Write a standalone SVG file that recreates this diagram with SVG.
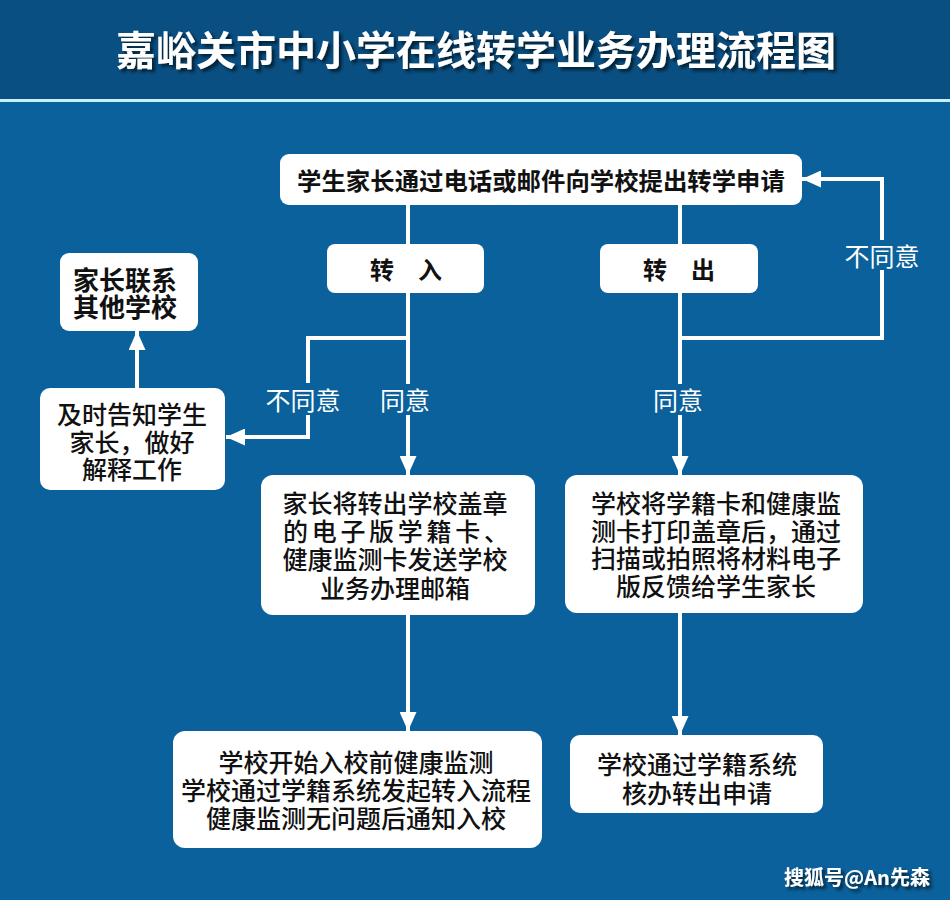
<svg xmlns="http://www.w3.org/2000/svg" width="950" height="900" viewBox="0 0 950 900">
<defs>
<style>
text{font-family:"Noto Sans CJK SC","Noto Sans",sans-serif;text-anchor:middle;dominant-baseline:central}
.box{fill:#ffffff}
.t{fill:#111111;font-size:25px;font-weight:500}
.tb{fill:#111111;font-size:25px;font-weight:bold}
.lbl{fill:#ffffff;font-size:25px}
.ln{stroke:#ffffff;stroke-width:4;fill:none}
.ar{stroke:#ffffff;stroke-width:4;fill:none;marker-end:url(#ah)}
</style>
<marker id="ah" markerUnits="userSpaceOnUse" markerWidth="19" markerHeight="17" viewBox="0 0 19 17" refX="19" refY="8.5" orient="auto">
<path d="M0,0 L19,8.5 L0,17 Z" fill="#ffffff"/>
</marker>
<filter id="sh" x="-5%" y="-20%" width="110%" height="150%">
<feDropShadow dx="3" dy="3" stdDeviation="1.5" flood-color="#001a33" flood-opacity="0.9"/>
</filter>
</defs>
<rect x="0" y="0" width="950" height="900" fill="#0b619b"/>
<rect x="0" y="0" width="950" height="99" fill="#0a4f81"/>
<rect x="0" y="99" width="950" height="3" fill="#c9efff"/>
<text x="476" y="48" fill="#ffffff" font-size="40" font-weight="bold" filter="url(#sh)">嘉峪关市中小学在线转学业务办理流程图</text>

<g id="connectors">
<path class="ln" d="M408,205 V244"/>
<path class="ln" d="M680,205 V244"/>
<path class="ln" d="M408,292 V384"/>
<path class="ar" d="M408,415 V475"/>
<path class="ln" d="M408,338 H308 V383"/>
<path class="ar" d="M308,415 V437 H226"/>
<path class="ar" d="M137,388 V331"/>
<path class="ar" d="M408,615 V731"/>
<path class="ln" d="M680,292 V384"/>
<path class="ar" d="M680,415 V475"/>
<path class="ln" d="M680,338 H882 V270"/>
<path class="ar" d="M882,240 V179 H802"/>
<path class="ar" d="M680,613 V735"/>
<text class="lbl" x="405" y="399">同意</text>
<text class="lbl" x="303" y="399">不同意</text>
<text class="lbl" x="678" y="399">同意</text>
<text class="lbl" x="882" y="255">不同意</text>
</g>

<g id="apply">
<rect class="box" x="280" y="154" width="522" height="51" rx="9"/>
<text class="tb" x="541" y="179" style="font-size:24.4px">学生家长通过电话或邮件向学校提出转学申请</text>
</g>
<g id="in">
<rect class="box" x="327" y="244" width="157" height="49" rx="8"/>
<text class="tb" x="406" y="268" style="font-size:24px">转　入</text>
</g>
<g id="out">
<rect class="box" x="600" y="244" width="158" height="49" rx="8"/>
<text class="tb" x="679" y="268" style="font-size:24px">转　出</text>
</g>
<g id="contact">
<rect class="box" x="60" y="253" width="138" height="78" rx="9"/>
<text class="tb" style="font-size:26px"><tspan x="125" y="278">家长联系</tspan><tspan x="125" y="305">其他学校</tspan></text>
</g>
<g id="notify">
<rect class="box" x="40" y="388" width="185" height="102" rx="10"/>
<text class="t"><tspan x="132" y="413">及时告知学生</tspan><tspan x="132" y="441">家长，做好</tspan><tspan x="132" y="468">解释工作</tspan></text>
</g>
<g id="send">
<rect class="box" x="261" y="475" width="274" height="140" rx="12"/>
<text class="t"><tspan x="395" y="502">家长将转出学校盖章</tspan><tspan x="283" y="530" style="text-anchor:start" letter-spacing="3.7">的电子版学籍卡、</tspan><tspan x="395" y="558">健康监测卡发送学校</tspan><tspan x="395" y="587">业务办理邮箱</tspan></text>
</g>
<g id="start">
<rect class="box" x="173" y="731" width="369" height="117" rx="12"/>
<text class="t"><tspan x="356" y="761">学校开始入校前健康监测</tspan><tspan x="356" y="789">学校通过学籍系统发起转入流程</tspan><tspan x="356" y="817">健康监测无问题后通知入校</tspan></text>
</g>
<g id="print">
<rect class="box" x="565" y="475" width="298" height="138" rx="12"/>
<text class="t"><tspan x="716" y="502">学校将学籍卡和健康监</tspan><tspan x="716" y="530">测卡打印盖章后，通过</tspan><tspan x="716" y="557">扫描或拍照将材料电子</tspan><tspan x="716" y="585">版反馈给学生家长</tspan></text>
</g>
<g id="approve">
<rect class="box" x="570" y="735" width="253" height="78" rx="10"/>
<text class="t"><tspan x="697" y="763">学校通过学籍系统</tspan><tspan x="697" y="792">核办转出申请</tspan></text>
</g>
<text x="857" y="876" fill="#ffffff" font-size="20" font-weight="bold" filter="url(#sh)">搜狐号@An先森</text>
</svg>
